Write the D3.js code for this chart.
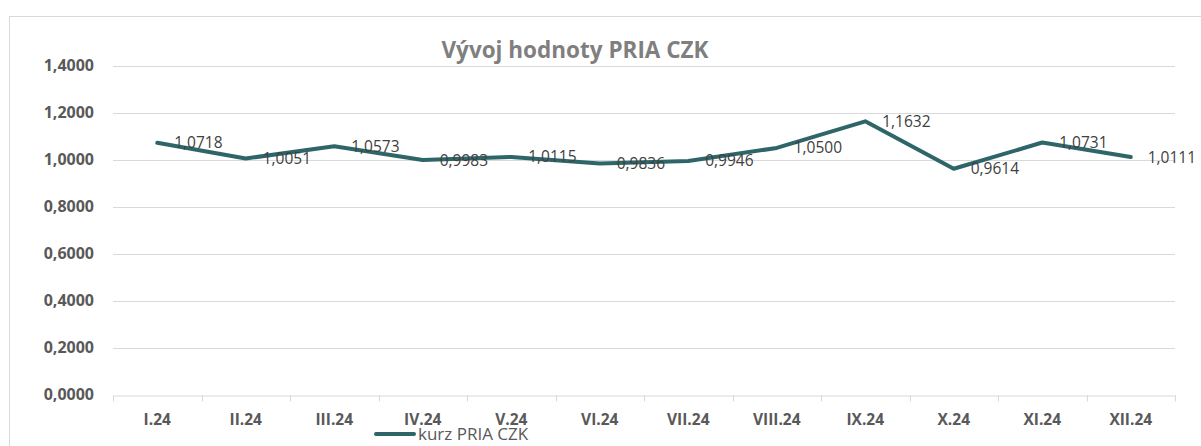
<!DOCTYPE html>
<html>
<head>
<meta charset="utf-8">
<script src="https://cdn.jsdelivr.net/npm/d3@7"></script>
<style>
  html, body { margin: 0; padding: 0; background: #fff; }
  svg { display: block; }
</style>
</head>
<body>
<div id="chart"></div>
<script>
const categories = ["I.24", "II.24", "III.24", "IV.24", "V.24", "VI.24", "VII.24", "VIII.24", "IX.24", "X.24", "XI.24", "XII.24"];
const values = [1.0718, 1.0051, 1.0573, 0.9983, 1.0115, 0.9836, 0.9946, 1.0500, 1.1632, 0.9614, 1.0731, 1.0111];
const yTicks = [0, 0.2, 0.4, 0.6, 0.8, 1.0, 1.2, 1.4];
const seriesName = "kurz PRIA CZK";
const title = "Vývoj hodnoty PRIA CZK";

const W = 1201, H = 446;
const margin = { left: 113, right: 26, top: 65.7, bottom: 51.3 };
const svg = d3.select("#chart").append("svg").attr("width", W).attr("height", H);

// outer chart border (cropped)
svg.append("rect").attr("x", 9.5).attr("y", 16.5).attr("width", 1300).attr("height", 600)
  .attr("fill", "none").attr("stroke", "#d9d9d9").attr("stroke-width", 1);

const x = d3.scaleBand().domain(categories).range([margin.left, W - margin.right]).padding(0);
const y = d3.scaleLinear().domain([0, 1.4]).range([H - margin.bottom, margin.top]);
const fmt = v => d3.format(".4f")(v).replace(".", ",");

// gridlines
svg.append("g").selectAll("line").data(yTicks.filter(d => d > 0)).join("line")
  .attr("x1", margin.left).attr("x2", W - margin.right)
  .attr("y1", d => Math.round(y(d)) + 0.5).attr("y2", d => Math.round(y(d)) + 0.5)
  .attr("stroke", "#d9d9d9").attr("stroke-width", 1);

// y axis labels
const yAxis = d3.axisLeft(y).tickValues(yTicks).tickSize(0).tickPadding(19).tickFormat(fmt);
const gy = svg.append("g").attr("transform", `translate(${margin.left},0)`).call(yAxis);
gy.select(".domain").remove();
gy.selectAll("text").attr("fill", "#595959").style("font-family", "'Open Sans', sans-serif")
  .style("font-size", "16px").style("font-weight", "bold");

// x axis
const x0 = Math.round(y(0)) + 0.5;
const xAxis = d3.axisBottom(x).tickSize(0).tickPadding(18);
const gx = svg.append("g").attr("transform", `translate(0,${x0})`).call(xAxis);
gx.select(".domain").attr("stroke", "#d9d9d9");
gx.selectAll(".tick line").remove();
gx.selectAll("text").attr("fill", "#595959").style("font-family", "'Open Sans', sans-serif")
  .style("font-size", "15.5px").style("font-weight", "bold");
// category boundary ticks
const bounds = categories.map(c => x(c)).concat([x(categories[categories.length - 1]) + x.bandwidth()]);
svg.append("g").selectAll("line").data(bounds).join("line")
  .attr("x1", d => Math.round(d) + 0.5).attr("x2", d => Math.round(d) + 0.5)
  .attr("y1", x0).attr("y2", x0 + 6)
  .attr("stroke", "#d9d9d9").attr("stroke-width", 1);

// line
const cx = c => x(c) + x.bandwidth() / 2;
const line = d3.line().x((d, i) => cx(categories[i])).y(d => y(d));
svg.append("path").datum(values).attr("d", line)
  .attr("fill", "none").attr("stroke", "#2e6569").attr("stroke-width", 4)
  .attr("stroke-linejoin", "round").attr("stroke-linecap", "round");

// data labels
svg.append("g").selectAll("text").data(values).join("text")
  .attr("x", (d, i) => cx(categories[i]) + 17).attr("y", d => y(d))
  .attr("dy", "0.35em")
  .attr("fill", "#404040").style("font-family", "'Open Sans', sans-serif").style("font-size", "15.5px")
  .text(d => fmt(d));

// title
svg.append("text").attr("x", 575).attr("y", 58).attr("text-anchor", "middle")
  .attr("fill", "#7f7f7f").style("font-family", "'Open Sans', sans-serif").style("font-size", "22.5px")
  .style("font-weight", "bold").text(title);

// legend
svg.append("line").attr("x1", 376).attr("x2", 414).attr("y1", 434).attr("y2", 434)
  .attr("stroke", "#2e6569").attr("stroke-width", 4).attr("stroke-linecap", "round");
svg.append("text").attr("x", 418).attr("y", 434).attr("dy", "0.35em")
  .attr("fill", "#595959").style("font-family", "'Open Sans', sans-serif").style("font-size", "17px")
  .text(seriesName);
</script>
</body>
</html>
